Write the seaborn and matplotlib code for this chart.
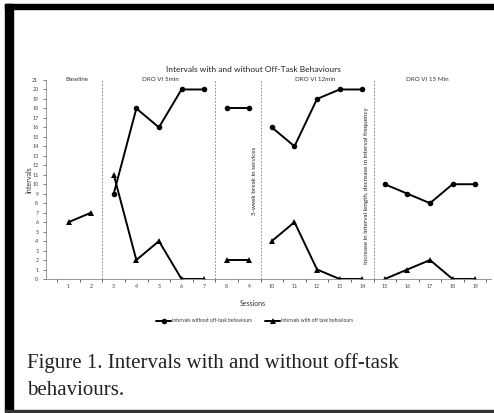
import numpy as np
import pandas as pd
import seaborn as sns
import matplotlib.pyplot as plt
from matplotlib.patches import Rectangle

# data
sessions = list(range(1, 20))
phase_of_session = ["Baseline"] * 2 + ["DRO VI 5min"] * 5 + ["Break"] * 2 + \
    ["DRO VI 12min"] * 5 + ["DRO VI 15 Min"] * 5
without_offtask = [np.nan, np.nan, 9, 18, 16, 20, 20, 18, 18,
                   16, 14, 19, 20, 20, 10, 9, 8, 10, 10]
with_offtask = [6, 7, 11, 2, 4, 0, 0, 2, 2,
                4, 6, 1, 0, 0, 0, 1, 2, 0, 0]
series_names = ["Intervals without off-task behaviours",
                "Intervals with off task behaviours"]
phase_lines = [2.5, 7.5, 9.5, 14.5]
phase_labels = ["Baseline", "DRO VI 5min", "DRO VI 12min", "DRO VI 15 Min"]
phase_label_x = [1.35, 5.05, 11.9, 16.9]


def main():
    df = pd.concat([
        pd.DataFrame({"session": sessions, "intervals": without_offtask,
                      "series": series_names[0], "phase": phase_of_session}),
        pd.DataFrame({"session": sessions, "intervals": with_offtask,
                      "series": series_names[1], "phase": phase_of_session}),
    ]).dropna()

    sns.set_style("white")
    plt.rcParams["font.family"] = ["Lato", "DejaVu Sans"]

    fig = plt.figure(figsize=(4.94, 4.13), dpi=100)
    ax = fig.add_axes([0.0931, 0.3245, 0.9008, 0.4818])

    sns.lineplot(
        data=df, x="session", y="intervals",
        hue="series", style="series", units="phase", estimator=None,
        markers={series_names[0]: "o", series_names[1]: "^"},
        dashes=False, palette=["black", "black"],
        linewidth=1.4, markersize=4, markeredgewidth=0,
        ax=ax,
    )

    for xv in phase_lines:
        ax.plot([xv, xv], [0, 21], color="#777777", linestyle=(0, (2, 2)),
                linewidth=0.6)

    for lbl, xv in zip(phase_labels, phase_label_x):
        ax.text(xv, 21, lbl, ha="center", va="center", fontsize=4.5,
                color="#333333")

    ax.text(9.23, 10.4, "3-week break in services", rotation=90,
            ha="center", va="center", fontsize=4.5, color="#222222")
    ax.text(14.18, 9.9,
            "Increase in interval length, decrease in interval frequency",
            rotation=90, ha="center", va="center", fontsize=4.5,
            color="#222222")

    ax.set_xlim(0, 19.7)
    ax.set_ylim(0, 21)
    ax.set_xticks(sessions)
    ax.set_xticks(np.arange(0.5, 19.6, 1), minor=True)
    ax.set_yticks(range(0, 22))
    ax.tick_params(axis="both", labelsize=3.8, colors="#444444", length=0)
    ax.tick_params(axis="y", which="major", length=2, width=0.5,
                   direction="out", left=True)
    ax.tick_params(axis="x", which="minor", length=2, width=0.5,
                   direction="out", bottom=True)
    for side in ["top", "right"]:
        ax.spines[side].set_visible(False)
    for side in ["left", "bottom"]:
        ax.spines[side].set_color("#888888")
        ax.spines[side].set_linewidth(0.6)

    ax.set_xlabel("")
    ax.set_ylabel("")
    fig.text(29 / 494, 1 - 180 / 413, "Intervals", rotation=90,
             ha="center", va="center", fontsize=5, color="#333333")
    fig.text(253 / 494, 1 - 304 / 413, "Sessions", ha="center",
             va="center", fontsize=5, color="#333333")
    fig.text(253 / 494, 1 - 69 / 413,
             "Intervals with and without Off-Task Behaviours",
             ha="center", va="center", fontsize=6, color="#222222")

    sns.move_legend(ax, "center", bbox_to_anchor=(0.4685, -0.211), ncol=2,
                    frameon=False, title=None, fontsize=3.5,
                    handlelength=3.1, columnspacing=2.8, handletextpad=0.1)
    for t in ax.get_legend().get_texts():
        t.set_color("#333333")

    fig.text(27 / 494, 1 - 368 / 413,
             "Figure 1. Intervals with and without off-task",
             ha="left", va="baseline", fontsize=15,
             family="Liberation Serif", color="#222222")
    fig.text(27 / 494, 1 - 395 / 413, "behaviours.",
             ha="left", va="baseline", fontsize=15,
             family="Liberation Serif", color="#222222")

    # black frame around the figure (left, top, bottom)
    H = 413
    fig.patches.append(Rectangle((5 / 494, 1 / H), 8 / 494, 408 / H,
                                 transform=fig.transFigure, color="black"))
    fig.patches.append(Rectangle((5 / 494, 1 - 9 / H), 489 / 494, 5 / H,
                                 transform=fig.transFigure, color="black"))
    fig.patches.append(Rectangle((5 / 494, 1 / H), 489 / 494, 2 / H,
                                 transform=fig.transFigure, color="#333333"))

    plt.savefig("out.png", dpi=100)


if __name__ == "__main__":
    main()
